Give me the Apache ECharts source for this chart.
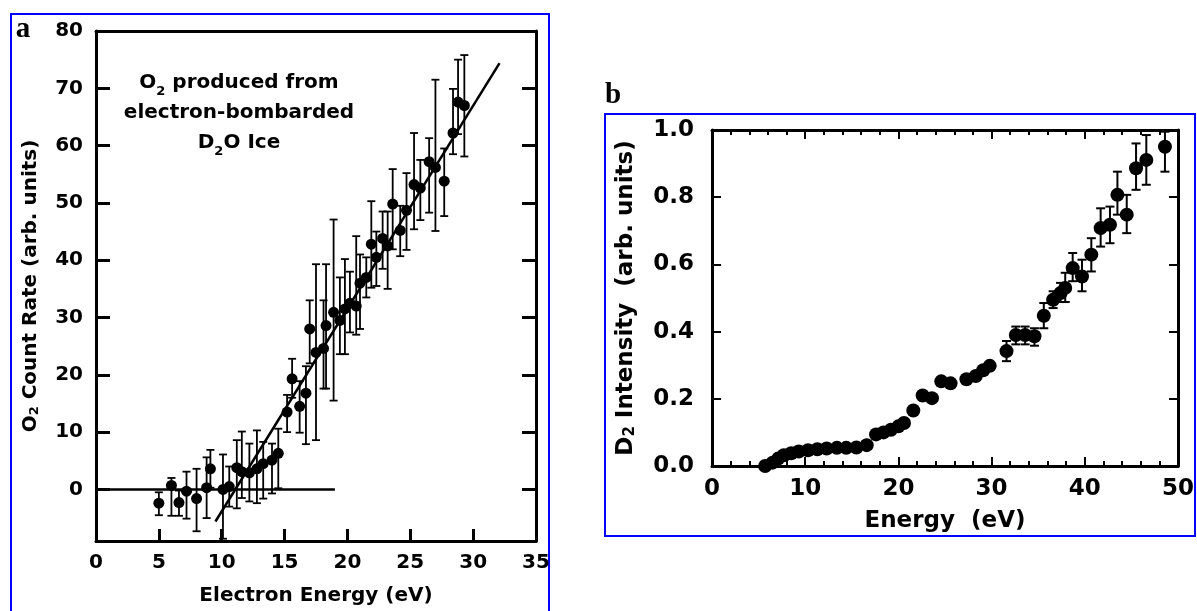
<!DOCTYPE html>
<html><head><meta charset="utf-8">
<script src="https://cdn.jsdelivr.net/npm/echarts@6/dist/echarts.min.js"></script>
<style>html,body{margin:0;padding:0;background:#fff}#c{width:1197px;height:611px}</style>
</head><body><div id="c"></div>
<script>
// ---------- Panel a: O2 count rate vs electron energy ----------
const aEnergy = [5.0, 6.0, 6.6, 7.2, 8.0, 8.8, 9.1, 10.1, 10.6, 11.2, 11.6, 12.2, 12.8, 13.3, 14.0, 14.5,
  15.2, 15.6, 16.2, 16.7, 17.0, 17.5, 18.1, 18.3, 18.9, 19.4, 19.8, 20.2, 20.7, 21.0, 21.5, 21.9,
  22.3, 22.8, 23.2, 23.6, 24.2, 24.7, 25.3, 25.8, 26.5, 27.0, 27.7, 28.4, 28.8, 29.3];
const aRate = [-2.4, 0.7, -2.3, -0.3, -1.6, 0.3, 3.6, 0.0, 0.5, 3.8, 3.1, 2.9, 3.6, 4.5, 5.1, 6.3,
  13.5, 19.3, 14.5, 16.8, 28.0, 23.9, 24.6, 28.6, 30.9, 29.5, 31.5, 32.5, 32.0, 36.0, 37.0, 42.8,
  40.5, 43.8, 42.5, 49.8, 45.2, 48.7, 53.2, 52.6, 57.2, 56.2, 53.8, 62.2, 67.6, 67.0];
const aLow = [-4.5, -4.6, -4.6, -5.1, -7.3, -5.0, 0.3, -8.6, -3.0, -3.3, -1.5, -2.1, -2.4, -1.6, -0.7, 0.2,
  10.0, 16.0, 9.9, 7.9, 22.0, 8.6, 17.6, 17.6, 15.5, 23.6, 23.6, 27.4, 27.0, 28.0, 33.5, 35.2,
  35.5, 38.5, 35.0, 41.9, 40.7, 41.8, 45.4, 47.0, 48.3, 45.1, 47.7, 58.5, 62.0, 58.1];
const aHigh = [-0.5, 2.0, -0.2, 3.1, 3.6, 5.6, 6.9, 6.1, 4.0, 8.6, 10.1, 8.0, 10.3, 8.3, 8.0, 10.6,
  16.5, 22.8, 18.9, 21.5, 33.0, 39.3, 33.0, 39.3, 47.1, 37.0, 40.2, 38.0, 44.2, 41.0, 40.5, 50.3,
  45.0, 48.5, 48.5, 55.9, 49.5, 55.2, 62.2, 57.5, 61.3, 71.5, 59.5, 69.9, 75.0, 75.8];
const aBaseX = [0, 19];
const aBaseY = [0, 0];
const aFitX = [9.5, 32.1];
const aFitY = [-5.6, 74.4];
const aXTicks = [5, 10, 15, 20, 25, 30];
const aYTicks = [0, 10, 20, 30, 40, 50, 60, 70];
const aYLabels = [0, 10, 20, 30, 40, 50, 60, 70, 80];

// ---------- Panel b: D2 intensity vs energy ----------
const bEnergy = [5.7, 6.5, 7.1, 7.7, 8.5, 9.3, 10.3, 11.3, 12.3, 13.4, 14.4, 15.5, 16.6, 17.6, 18.4, 19.2,
  20.0, 20.6, 21.6, 22.6, 23.6, 24.6, 25.6, 27.3, 28.3, 29.1, 29.8, 31.6, 32.6, 33.6, 34.6, 35.6,
  36.6, 37.4, 37.9, 38.7, 39.7, 40.7, 41.7, 42.7, 43.5, 44.5, 45.5, 46.6, 48.6];
const bIntensity = [0.000, 0.010, 0.022, 0.032, 0.038, 0.043, 0.047, 0.050, 0.052, 0.054, 0.054, 0.055, 0.062, 0.094, 0.100, 0.108,
  0.118, 0.128, 0.165, 0.210, 0.202, 0.252, 0.246, 0.258, 0.268, 0.285, 0.298, 0.342, 0.390, 0.390, 0.386, 0.447,
  0.495, 0.515, 0.530, 0.589, 0.564, 0.629, 0.708, 0.718, 0.807, 0.748, 0.886, 0.911, 0.950];
const bLow = [null, null, null, null, null, null, null, null, null, null, null, null, null, null, null, null,
  null, null, null, null, null, null, null, null, null, null, null, 0.312, 0.362, 0.362, 0.358, 0.410,
  0.470, 0.488, 0.488, 0.550, 0.520, 0.579, 0.653, 0.663, 0.748, 0.693, 0.822, 0.837, 0.876];
const bHigh = [null, null, null, null, null, null, null, null, null, null, null, null, null, null, null, null,
  null, null, null, null, null, null, null, null, null, null, null, 0.372, 0.415, 0.415, 0.410, 0.485,
  0.520, 0.545, 0.575, 0.634, 0.614, 0.678, 0.767, 0.772, 0.876, 0.807, 0.960, 0.985, 0.995];

const FONT = 'DejaVu Sans';
const BLACK = '#000';

function zip(xs, ys) { return xs.map((x, i) => [x, ys[i]]); }
function errData(xs, lo, hi) {
  const out = [];
  xs.forEach((x, i) => { if (lo[i] != null && hi[i] != null) out.push([x, lo[i], hi[i]]); });
  return out;
}
function errRender(cap, lw) {
  return function (params, api) {
    const x = api.value(0), lo = api.value(1), hi = api.value(2);
    const t = api.coord([x, hi]), b = api.coord([x, lo]);
    const st = { stroke: BLACK, lineWidth: lw };
    return {
      type: 'group', children: [
        { type: 'line', shape: { x1: t[0], y1: t[1], x2: b[0], y2: b[1] }, style: st },
        { type: 'line', shape: { x1: t[0] - cap / 2, y1: t[1], x2: t[0] + cap / 2, y2: t[1] }, style: st },
        { type: 'line', shape: { x1: b[0] - cap / 2, y1: b[1], x2: b[0] + cap / 2, y2: b[1] }, style: st }
      ]
    };
  };
}

const aLabel = { fontFamily: FONT, fontSize: 20, fontWeight: 'bold', color: BLACK };
const bLabel = { fontFamily: FONT, fontSize: 23, fontWeight: 'bold', color: BLACK };
const aLine = { show: true, onZero: false, lineStyle: { color: BLACK, width: 3 } };
const bLine = { show: true, onZero: false, lineStyle: { color: BLACK, width: 3 } };

const option = {
  animation: false,
  backgroundColor: '#fff',
  grid: [
    { left: 96, right: 1197 - 536, top: 31, bottom: 611 - 542 },
    { left: 712, right: 1197 - 1179, top: 130, bottom: 611 - 466 }
  ],
  xAxis: [
    { gridIndex: 0, type: 'value', min: 0, max: 35, interval: 5, position: 'bottom',
      axisLine: aLine,
      axisTick: { show: true, inside: true, length: 12, customValues: aXTicks, lineStyle: { color: BLACK, width: 3 } },
      axisLabel: Object.assign({ margin: 12 }, aLabel),
      splitLine: { show: false },
      name: 'Electron Energy (eV)', nameLocation: 'middle', nameGap: 45,
      nameTextStyle: { fontFamily: FONT, fontSize: 20, fontWeight: 'bold', color: BLACK } },
    { gridIndex: 0, type: 'value', min: 0, max: 35, position: 'top',
      axisLine: aLine, axisTick: { show: false }, axisLabel: { show: false }, splitLine: { show: false } },
    { gridIndex: 1, type: 'value', min: 0, max: 50, interval: 10, position: 'bottom',
      axisLine: bLine,
      axisTick: { show: true, inside: true, length: 9, lineStyle: { color: BLACK, width: 2 } },
      minorTick: { show: true, splitNumber: 5, length: 5, lineStyle: { color: BLACK, width: 2 } },
      axisLabel: Object.assign({ margin: 12 }, bLabel),
      splitLine: { show: false },
      name: 'Energy  (eV)', nameLocation: 'middle', nameGap: 44,
      nameTextStyle: { fontFamily: FONT, fontSize: 23, fontWeight: 'bold', color: BLACK } },
    { gridIndex: 1, type: 'value', min: 0, max: 50, interval: 10, position: 'top',
      axisLine: bLine,
      axisTick: { show: true, inside: true, length: 9, lineStyle: { color: BLACK, width: 2 } },
      minorTick: { show: true, splitNumber: 5, length: 5, lineStyle: { color: BLACK, width: 2 } },
      axisLabel: { show: false }, splitLine: { show: false } }
  ],
  yAxis: [
    { gridIndex: 0, type: 'value', min: -9, max: 80, position: 'left',
      axisLine: aLine,
      axisTick: { show: true, inside: true, length: 14, customValues: aYTicks, lineStyle: { color: BLACK, width: 3 } },
      axisLabel: Object.assign({ margin: 13, customValues: aYLabels }, aLabel),
      splitLine: { show: false },
      name: '{n|O}{s|2}{n| Count Rate (arb. units)}', nameLocation: 'middle', nameGap: 55, nameRotate: 90,
      nameTextStyle: { fontFamily: FONT, fontSize: 20, fontWeight: 'bold', color: BLACK,
        rich: { n: { fontFamily: FONT, fontSize: 20, fontWeight: 'bold', color: BLACK },
                s: { fontFamily: FONT, fontSize: 13, fontWeight: 'bold', color: BLACK, verticalAlign: 'bottom', lineHeight: 8 } } } },
    { gridIndex: 0, type: 'value', min: -9, max: 80, position: 'right',
      axisLine: aLine,
      axisTick: { show: true, inside: true, length: 14, customValues: aYTicks, lineStyle: { color: BLACK, width: 3 } },
      axisLabel: { show: false }, splitLine: { show: false } },
    { gridIndex: 1, type: 'value', min: 0, max: 1, interval: 0.2, position: 'left',
      axisLine: bLine,
      axisTick: { show: true, inside: true, length: 9, lineStyle: { color: BLACK, width: 2 } },
      axisLabel: Object.assign({ margin: 18, formatter: v => v.toFixed(1) }, bLabel),
      splitLine: { show: false },
      name: '{n|D}{s|2}{n| Intensity  (arb. units)}', nameLocation: 'middle', nameGap: 74, nameRotate: 90,
      nameTextStyle: { fontFamily: FONT, fontSize: 23, fontWeight: 'bold', color: BLACK,
        rich: { n: { fontFamily: FONT, fontSize: 23, fontWeight: 'bold', color: BLACK },
                s: { fontFamily: FONT, fontSize: 15, fontWeight: 'bold', color: BLACK, verticalAlign: 'bottom', lineHeight: 8 } } } },
    { gridIndex: 1, type: 'value', min: 0, max: 1, interval: 0.2, position: 'right',
      axisLine: bLine,
      axisTick: { show: true, inside: true, length: 9, lineStyle: { color: BLACK, width: 2 } },
      axisLabel: { show: false }, splitLine: { show: false } }
  ],
  graphic: [
    { type: 'rect', shape: { x: 11, y: 14, width: 538, height: 620 }, style: { fill: 'none', stroke: '#0000ff', lineWidth: 2 }, silent: true },
    { type: 'rect', shape: { x: 605, y: 114, width: 590, height: 422 }, style: { fill: 'none', stroke: '#0000ff', lineWidth: 2 }, silent: true },
    { type: 'text', x: 23, y: 30, style: { text: 'a', fontFamily: 'Liberation Serif', fontSize: 29, fontWeight: 'bold', fill: BLACK, align: 'center', verticalAlign: 'middle' } },
    { type: 'text', x: 613, y: 96, style: { text: 'b', fontFamily: 'Liberation Serif', fontSize: 29, fontWeight: 'bold', fill: BLACK, align: 'center', verticalAlign: 'middle' } },
    { type: 'text', x: 239, y: 68,
      style: { text: '{n|O}{s|2}{n| produced from}\n{n|electron-bombarded}\n{n|D}{s|2}{n|O Ice}',
        fontFamily: FONT, fontSize: 20, fontWeight: 'bold', fill: BLACK, align: 'center', verticalAlign: 'top',
        rich: { n: { fontFamily: FONT, fontSize: 20, fontWeight: 'bold', fill: BLACK, lineHeight: 30 },
                s: { fontFamily: FONT, fontSize: 13, fontWeight: 'bold', fill: BLACK, verticalAlign: 'bottom', lineHeight: 14 } } } }
  ],
  series: [
    { type: 'line', xAxisIndex: 0, yAxisIndex: 0, data: zip(aBaseX, aBaseY), showSymbol: false, symbol: 'none',
      lineStyle: { color: BLACK, width: 2.5 }, z: 2 },
    { type: 'line', xAxisIndex: 0, yAxisIndex: 0, data: zip(aFitX, aFitY), showSymbol: false, symbol: 'none',
      lineStyle: { color: BLACK, width: 2.5 }, z: 2 },
    { type: 'custom', xAxisIndex: 0, yAxisIndex: 0, data: errData(aEnergy, aLow, aHigh),
      encode: { x: 0, y: [1, 2] }, renderItem: errRender(8, 1.8), z: 3 },
    { type: 'scatter', xAxisIndex: 0, yAxisIndex: 0, data: zip(aEnergy, aRate), symbol: 'circle', symbolSize: 11,
      itemStyle: { color: BLACK, opacity: 1 }, z: 4 },
    { type: 'custom', xAxisIndex: 2, yAxisIndex: 2, data: errData(bEnergy, bLow, bHigh),
      encode: { x: 0, y: [1, 2] }, renderItem: errRender(9, 2), z: 3 },
    { type: 'scatter', xAxisIndex: 2, yAxisIndex: 2, data: zip(bEnergy, bIntensity), symbol: 'circle', symbolSize: 14,
      itemStyle: { color: BLACK, opacity: 1 }, z: 4 }
  ]
};
const chart = echarts.init(document.getElementById('c'));
chart.setOption(option);
</script>
</body></html>
